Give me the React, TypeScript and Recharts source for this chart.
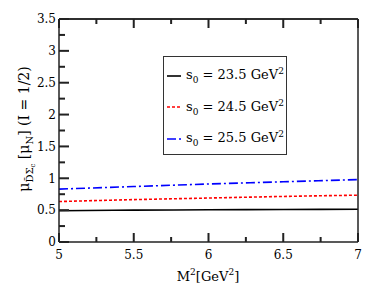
import React from "react"
import { Legend, Line, LineChart, ReferenceLine, XAxis, YAxis } from "recharts"

// M^2 [GeV^2]
const m2 = [5, 5.5, 6, 6.5, 7]
const s0_235 = [0.49, 0.5, 0.505, 0.51, 0.515]
const s0_245 = [0.635, 0.665, 0.69, 0.715, 0.735]
const s0_255 = [0.83, 0.87, 0.91, 0.945, 0.98]

const xTicks = [5, 5.25, 5.5, 5.75, 6, 6.25, 6.5, 6.75, 7]
const yTicks = [0, 0.25, 0.5, 0.75, 1, 1.25, 1.5, 1.75, 2, 2.25, 2.5, 2.75, 3, 3.25, 3.5]

const series = [
  { key: "a", s0: "23.5", color: "#000000", dash: undefined as string | undefined },
  { key: "b", s0: "24.5", color: "#ff0000", dash: "3 2" },
  { key: "c", s0: "25.5", color: "#0000ff", dash: "9 3 2 3" },
]

const data = m2.map((m, i) => ({ m, a: s0_235[i], b: s0_245[i], c: s0_255[i] }))

const FONT = "DejaVu Serif, serif"
const AXIS = "#222"
const TW = 2

const isMajor = (v: number) => Math.abs(v * 2 - Math.round(v * 2)) < 1e-6

// tickSize is 1 and tickMargin 0, so the axis sits 1px from the tick anchor
const leftTick = (p: any) => {
  const ax = Number(p.x) + 1
  const y = Number(p.y)
  const major = isMajor(p.payload.value)
  return (
    <g>
      <rect x={ax} y={y - TW / 2} width={major ? 10 : 6} height={TW} fill={AXIS} />
      {major && (
        <text x={ax - 3} y={y} dy="0.36em" textAnchor="end" fontSize={12} fontFamily={FONT} fill="#000">
          {String(p.payload.value)}
        </text>
      )}
    </g>
  )
}

const rightTick = (p: any) => {
  const ax = Number(p.x) - 1
  const y = Number(p.y)
  const w = isMajor(p.payload.value) ? 10 : 6
  return <rect x={ax - w} y={y - TW / 2} width={w} height={TW} fill={AXIS} />
}

const bottomTick = (p: any) => {
  const x = Number(p.x)
  const ay = Number(p.y) - 1
  const major = isMajor(p.payload.value)
  const h = major ? 9 : 5
  return (
    <g>
      <rect x={x - TW / 2} y={ay - h} width={TW} height={h} fill={AXIS} />
      {major && (
        <text x={x} y={ay + 17} textAnchor="middle" fontSize={12} fontFamily={FONT} fill="#000">
          {String(p.payload.value)}
        </text>
      )}
    </g>
  )
}

const topTick = (p: any) => {
  const x = Number(p.x)
  const ay = Number(p.y) + 1
  const h = isMajor(p.payload.value) ? 9 : 5
  return <rect x={x - TW / 2} y={ay} width={TW} height={h} fill={AXIS} />
}

function YLabel() {
  return (
    <text transform="translate(29,129) rotate(-90)" textAnchor="middle" fontSize={14} fontFamily={FONT} fill="#000">
      <tspan>μ</tspan>
      <tspan fontSize={10} dy={4}>D̄Σ</tspan>
      <tspan fontSize={7} dy={2}>c</tspan>
      <tspan dy={-6}> [μ</tspan>
      <tspan fontSize={10} dy={4}>N</tspan>
      <tspan dy={-4}>] (I = 1/2)</tspan>
    </text>
  )
}

function XLabel() {
  return (
    <text x={208} y={281} textAnchor="middle" fontSize={13} fontFamily={FONT} fill="#000">
      <tspan>M</tspan>
      <tspan fontSize={9} dy={-6}>2</tspan>
      <tspan dy={6}>[GeV</tspan>
      <tspan fontSize={9} dy={-6}>2</tspan>
      <tspan dy={6}>]</tspan>
    </text>
  )
}

function LegendBox() {
  return (
    <div
      style={{
        width: 124,
        height: 99,
        border: "1px solid #333",
        boxSizing: "border-box",
        background: "#fff",
        fontFamily: FONT,
        fontSize: 13,
        paddingTop: 3,
      }}
    >
      {series.map((s) => (
        <div key={s.key} style={{ height: 31.5, display: "flex", alignItems: "center", whiteSpace: "nowrap" }}>
          <svg width={20} height={10} style={{ marginLeft: 2, flex: "none" }}>
            <line x1={1} x2={15} y1={5} y2={5} stroke={s.color} strokeWidth={1.6} strokeDasharray={s.dash} />
          </svg>
          <span>
            s<sub style={{ fontSize: 9 }}>0</sub> = {s.s0} GeV<sup style={{ fontSize: 9 }}>2</sup>
          </span>
        </div>
      ))}
    </div>
  )
}

export default function App() {
  return (
    <div style={{ position: "absolute", left: 0, top: 0, width: 374, height: 289, background: "#fff" }}>
      <LineChart width={374} height={289} data={data} margin={{ top: 17, right: 0, left: 0, bottom: 0 }}>
        <XAxis
          dataKey="m"
          type="number"
          domain={[5, 7]}
          ticks={xTicks}
          interval={0}
          height={47}
          tickSize={1}
          tickMargin={0}
          tickLine={false}
          axisLine={{ stroke: AXIS, strokeWidth: 1.5 }}
          tick={bottomTick}
          label={<XLabel />}
        />
        <XAxis
          xAxisId="top"
          orientation="top"
          dataKey="m"
          type="number"
          domain={[5, 7]}
          ticks={xTicks}
          interval={0}
          height={2}
          tickSize={1}
          tickMargin={0}
          tickLine={false}
          axisLine={{ stroke: AXIS, strokeWidth: 1.5 }}
          tick={topTick}
        />
        <YAxis
          type="number"
          domain={[0, 3.5]}
          ticks={yTicks}
          interval={0}
          width={59}
          tickSize={1}
          tickMargin={0}
          tickLine={false}
          axisLine={{ stroke: AXIS, strokeWidth: 1.5 }}
          tick={leftTick}
          label={<YLabel />}
        />
        <YAxis
          yAxisId="right"
          orientation="right"
          type="number"
          domain={[0, 3.5]}
          ticks={yTicks}
          interval={0}
          width={16}
          tickSize={1}
          tickMargin={0}
          tickLine={false}
          axisLine={{ stroke: AXIS, strokeWidth: 1.5 }}
          tick={rightTick}
        />
        <ReferenceLine y={3.5} stroke={AXIS} strokeWidth={1.5} ifOverflow="visible" />
        {series.map((s) => (
          <Line
            key={s.key}
            dataKey={s.key}
            type="monotone"
            stroke={s.color}
            strokeWidth={1.6}
            strokeDasharray={s.dash}
            dot={false}
            isAnimationActive={false}
          />
        ))}
        <Legend
          layout="horizontal"
          verticalAlign="middle"
          align="center"
          content={<LegendBox />}
          wrapperStyle={{ left: 163, top: 56, width: 124, height: 99 }}
        />
      </LineChart>
    </div>
  )
}
